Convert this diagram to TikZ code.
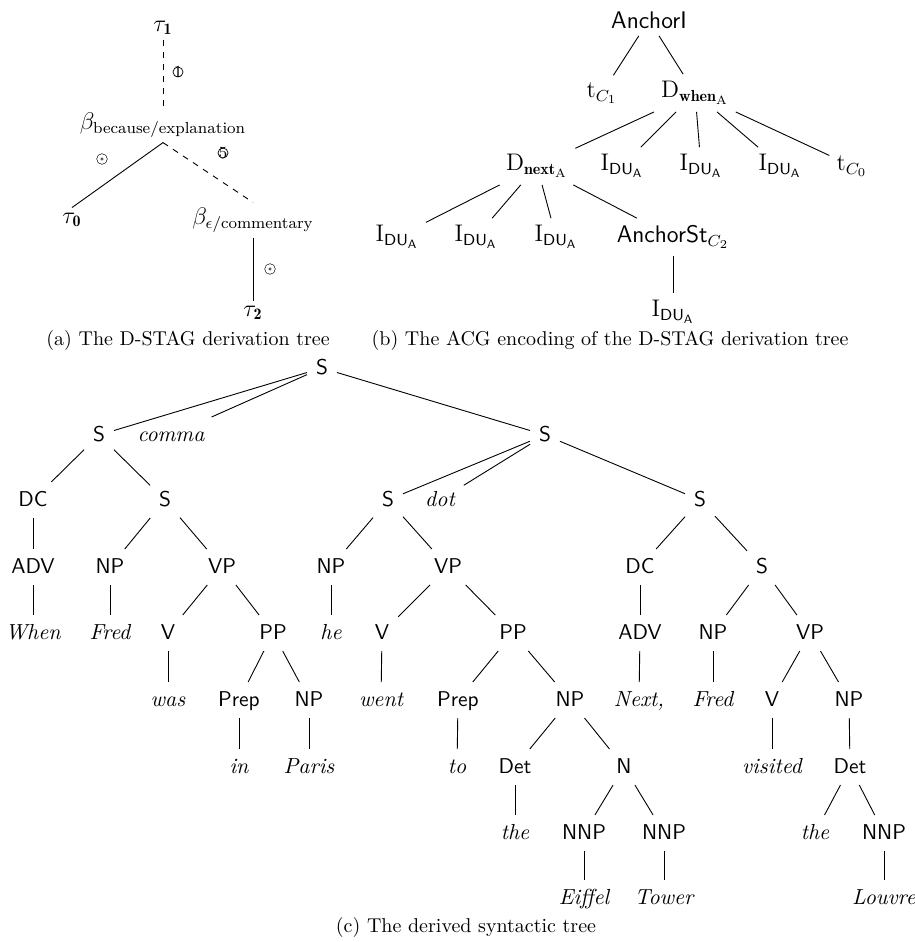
\documentclass[tikz,border=0pt]{standalone}
\usepackage{amsmath}
\usepackage{fontspec}
\tikzset{
  syn/.style={font=\fontsize{10.7}{12}\sffamily, text height=7.5pt, text depth=1.5pt, inner sep=4.3pt},
  wrd/.style={syn, font=\fontsize{10.9}{12}\selectfont\itshape},
  acg/.style={font=\fontsize{12}{14}\selectfont, inner sep=3.5pt},
  dst/.style={font=\fontsize{12}{14}\selectfont, inner sep=2.5pt},
  edge/.style={line width=0.45pt},
  dedge/.style={edge, dashed},
  cnum/.style={circle, draw, line width=0.35pt, minimum size=5pt, inner sep=0pt},
  cring/.style={circle, draw, double, double distance=1.6pt, line width=0.3pt, minimum size=3.2pt, inner sep=0pt},
  capt/.style={font=\fontsize{10}{12}\selectfont, inner sep=0pt},
  dlab/.style={font=\fontsize{8.5}{9}\selectfont, inner sep=0pt}
}
\begin{document}
\begin{tikzpicture}[x=0.5pt, y=-0.5pt]
\useasboundingbox (0,0) rectangle (915,942);

% ---------- (a) D-STAG derivation tree ----------
\node[dst] (t1) at (163,28) {$\tau_{\mathbf{1}}$};
\node[dst] (b1) at (163,125) {$\beta_{\text{because/explanation}}$};
\node[dst] (t0) at (72,220) {$\tau_{\mathbf{0}}$};
\node[dst] (b2) at (253,220) {$\beta_{\epsilon\text{/commentary}}$};
\node[dst] (t2) at (253,313) {$\tau_{\mathbf{2}}$};
\draw[dedge] (t1.south) -- (b1.north);
\draw[edge] (b1.south) -- (t0.north);
\draw[dedge] (b1.south) -- (b2.north);
\draw[edge] (b2.south) -- (t2.north);
\node[cnum, label={[dlab]center:1}] (g1) at (178,72) {};
\node[cring] (g2) at (102,159) {};
\node[cnum, label={[dlab]center:5}] (g3) at (223,153) {};
\node[cring] (g4) at (270,269) {};
\node[capt] (capa) at (188,340) {(a) The D-STAG derivation tree};

% ---------- (b) ACG encoding ----------
\node[acg] (a0) at (649,20) {\textsf{AnchorI}};
\node[acg] (a1) at (602,93) {$\mathrm{t}_{C_1}$};
\node[acg] (a2) at (695,93) {$\mathrm{D}_{\mathbf{when}_{\mathrm{A}}}$};
\node[acg] (a3) at (537,166) {$\mathrm{D}_{\mathbf{next}_{\mathrm{A}}}$};
\node[acg] (a4) at (622,166) {$\mathrm{I}_{\mathsf{DU}_{\mathsf{A}}}$};
\node[acg] (a5) at (701,166) {$\mathrm{I}_{\mathsf{DU}_{\mathsf{A}}}$};
\node[acg] (a6) at (780,166) {$\mathrm{I}_{\mathsf{DU}_{\mathsf{A}}}$};
\node[acg] (a7) at (852,166) {$\mathrm{t}_{C_0}$};
\node[acg] (a8) at (397,237) {$\mathrm{I}_{\mathsf{DU}_{\mathsf{A}}}$};
\node[acg] (a9) at (476,237) {$\mathrm{I}_{\mathsf{DU}_{\mathsf{A}}}$};
\node[acg] (a10) at (556,237) {$\mathrm{I}_{\mathsf{DU}_{\mathsf{A}}}$};
\node[acg] (a11) at (673,237) {\textsf{AnchorSt}$_{C_2}$};
\node[acg] (a12) at (673,312) {$\mathrm{I}_{\mathsf{DU}_{\mathsf{A}}}$};
\foreach \p/\c in {a0/a1,a0/a2,a2/a3,a2/a4,a2/a5,a2/a6,a2/a7,a3/a8,a3/a9,a3/a10,a3/a11}
  \draw[edge] (\p) -- (\c);
\draw[edge] (a11.south) -- (a12.north);
\node[capt] (capb) at (610,340) {(b) The ACG encoding of the D-STAG derivation tree};

% ---------- (c) derived syntactic tree ----------
\node[syn] (c0) at (322,368) {S};
\node[syn] (c1) at (99,435) {S};
\node[wrd] (cm) at (171,435) {comma};
\node[syn] (c2) at (545,435) {S};
\node[syn] (c3) at (33,500) {DC};
\node[syn] (c4) at (165,500) {S};
\node[syn] (c5) at (388,500) {S};
\node[wrd] (cd) at (440,500) {dot};
\node[syn] (c6) at (700,500) {S};
\node[syn] (c7) at (33,567) {ADV};
\node[syn] (c8) at (110,567) {NP};
\node[syn] (c9) at (222,567) {VP};
\node[syn] (c10) at (331,567) {NP};
\node[syn] (c11) at (448,567) {VP};
\node[syn] (c12) at (640,567) {DC};
\node[syn] (c13) at (762,567) {S};
\node[wrd] (w1) at (33,633) {When};
\node[wrd] (w2) at (110,633) {Fred};
\node[syn] (c14) at (168,633) {V};
\node[syn] (c15) at (273,633) {PP};
\node[wrd] (w3) at (331,633) {he};
\node[syn] (c16) at (382,633) {V};
\node[syn] (c17) at (513,633) {PP};
\node[syn] (c18) at (640,633) {ADV};
\node[syn] (c19) at (713,633) {NP};
\node[syn] (c20) at (810,633) {VP};
\node[wrd] (w4) at (168,700) {was};
\node[syn] (c21) at (239,700) {Prep};
\node[syn] (c22) at (309,700) {NP};
\node[wrd] (w5) at (381,700) {went};
\node[syn] (c23) at (458,700) {Prep};
\node[syn] (c24) at (570,700) {NP};
\node[wrd] (w6) at (639,700) {Next,};
\node[wrd] (w7) at (713,700) {Fred};
\node[syn] (c25) at (772,700) {V};
\node[syn] (c26) at (849,700) {NP};
\node[wrd] (w8) at (239,767) {in};
\node[wrd] (w9) at (309,767) {Paris};
\node[wrd] (w10) at (457,767) {to};
\node[syn] (c27) at (515,767) {Det};
\node[syn] (c28) at (624,767) {N};
\node[wrd] (w11) at (772,767) {visited};
\node[syn] (c29) at (850,767) {Det};
\node[wrd] (w12) at (515,833) {the};
\node[syn] (c30) at (584,833) {NNP};
\node[syn] (c31) at (664,833) {NNP};
\node[wrd] (w13) at (815,833) {the};
\node[syn] (c32) at (884,833) {NNP};
\node[wrd] (w14) at (584,898) {Eiffel};
\node[wrd] (w15) at (664,898) {Tower};
\node[wrd] (w16) at (884,898) {Louvre};
\foreach \p/\c in {c0/c1,c0/cm,c0/c2,c1/c3,c1/c4,c3/c7,c7/w1,c4/c8,c4/c9,c8/w2,
  c9/c14,c9/c15,c14/w4,c15/c21,c15/c22,c21/w8,c22/w9,
  c2/c5,c2/cd,c2/c6,c5/c10,c5/c11,c10/w3,c11/c16,c11/c17,c16/w5,
  c17/c23,c17/c24,c23/w10,c24/c27,c24/c28,c27/w12,c28/c30,c28/c31,c30/w14,c31/w15,
  c6/c12,c6/c13,c12/c18,c18/w6,c13/c19,c13/c20,c19/w7,c20/c25,c20/c26,c25/w11,
  c26/c29,c29/w13,c29/c32,c32/w16}
  \draw[edge] (\p) -- (\c);
\node[capt] (capc) at (466,927) {(c) The derived syntactic tree};
\end{tikzpicture}
\end{document}
